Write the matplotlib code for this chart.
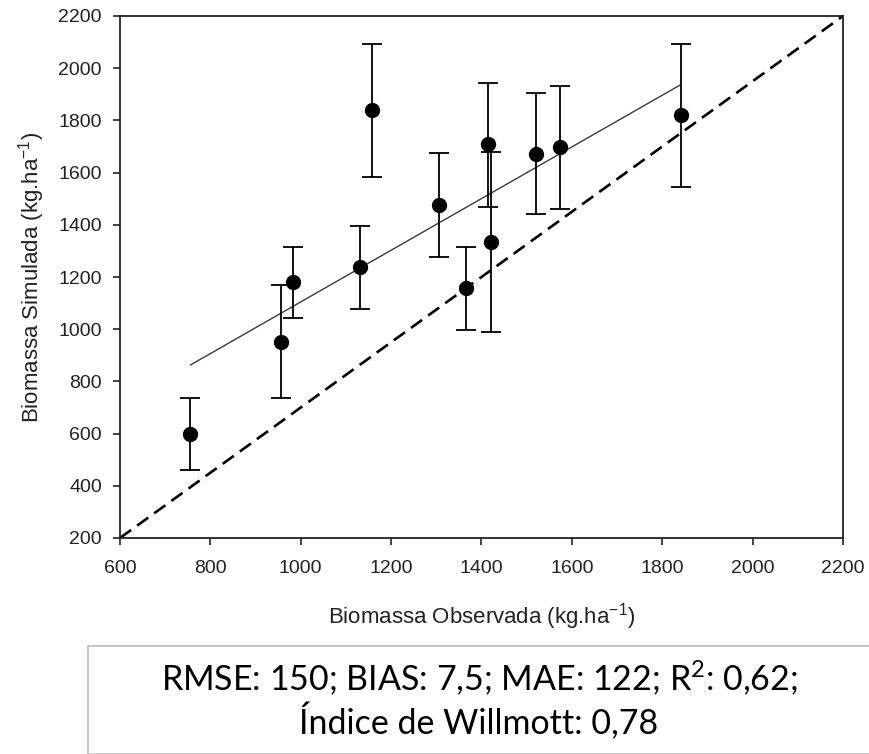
import matplotlib.pyplot as plt
from matplotlib.patches import Rectangle

plt.rcParams['font.family'] = ['Liberation Sans', 'DejaVu Sans']

# observed vs simulated biomass (kg/ha)
observada = [756, 956, 982, 1131, 1158, 1306, 1365, 1414, 1420, 1520, 1573, 1841]
simulada = [598, 952, 1179, 1238, 1838, 1477, 1156, 1708, 1334, 1673, 1697, 1820]
erro_inf = [461, 735, 1044, 1079, 1584, 1278, 996, 1470, 989, 1440, 1461, 1544]
erro_sup = [735, 1170, 1315, 1395, 2094, 1676, 1315, 1945, 1680, 1905, 1930, 2094]

# fitted regression line ends
reta_x = [756, 1841]
reta_y = [863, 1937]

# reference dashed line
ref_x = [600, 2200]
ref_y = [200, 2200]

ticks = [200, 400, 600, 800, 1000, 1200, 1400, 1600, 1800, 2000, 2200]
xticks = [600, 800, 1000, 1200, 1400, 1600, 1800, 2000, 2200]

fig = plt.figure(figsize=(8.7, 7.54), dpi=100)
ax = fig.add_axes([120 / 870, 1 - 538 / 754, 723 / 870, 522 / 754])

err = [[s - lo for s, lo in zip(simulada, erro_inf)],
       [hi - s for s, hi in zip(simulada, erro_sup)]]

ax.plot(ref_x, ref_y, color='black', lw=1.9, dashes=[5.2, 2.8], zorder=2)
ax.plot(reta_x, reta_y, color='#3a3a3a', lw=1.0, zorder=2)
ax.errorbar(observada, simulada, yerr=err, fmt='o', color='black', ms=10,
            ecolor='black', elinewidth=1.3, capsize=7.5, capthick=1.3, zorder=3)

ax.set_xlim(600, 2200)
ax.set_ylim(200, 2200)
ax.set_xticks(xticks)
ax.set_yticks(ticks)
ax.tick_params(direction='out', length=5, width=1.2, labelsize=14, pad=8,
               colors='#222222')
ax.tick_params(axis='x', pad=11)
for s in ax.spines.values():
    s.set_linewidth(1.3)
    s.set_color('#222222')

ax.set_xlabel(r'Biomassa Observada (kg.ha$\mathregular{^{-1}}$)', fontsize=16, labelpad=17,
              color='#222222')
ax.set_ylabel(r'Biomassa Simulada (kg.ha$\mathregular{^{-1}}$)', fontsize=16, labelpad=8,
              color='#222222')

# statistics box below the plot
fig.patches.append(Rectangle((88 / 870, 0), 1, (754 - 646) / 754, transform=fig.transFigure,
                             facecolor='white', edgecolor='#bdbdbd', lw=1.2))
fig.text(479 / 870, 1 - 678 / 754, r'RMSE: 150; BIAS: 7,5; MAE: 122; $\mathregular{R^2}$: 0,62;',
         ha='center', va='center', fontsize=24.5, family=['Lato', 'DejaVu Sans'])
fig.text(479 / 870, 1 - 722 / 754, 'Índice de Willmott: 0,78',
         ha='center', va='center', fontsize=24.5, family=['Lato', 'DejaVu Sans'])

fig.savefig('out.png', dpi=100)
